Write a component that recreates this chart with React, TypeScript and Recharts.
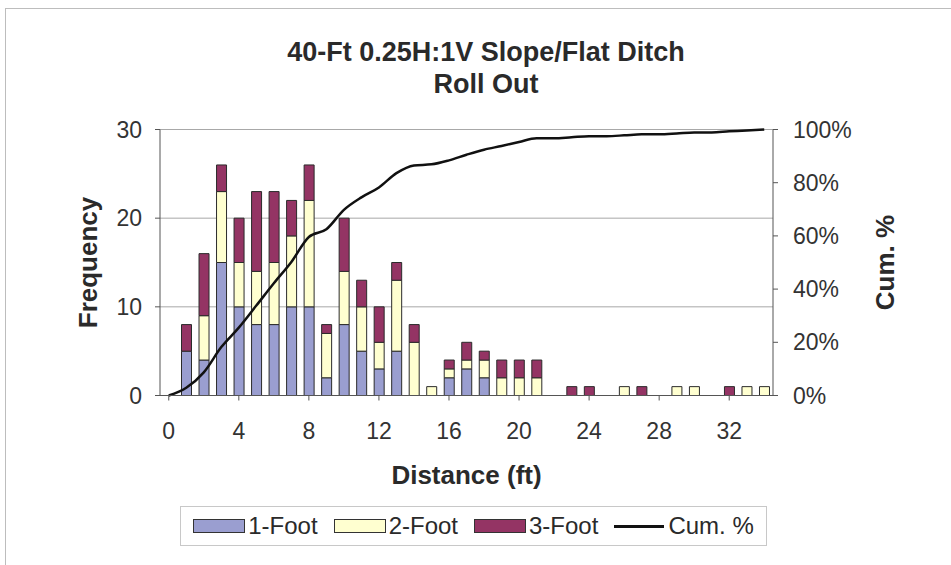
import React from 'react';
import {
  Bar,
  CartesianGrid,
  ComposedChart,
  Legend,
  Line,
  XAxis,
  YAxis,
} from 'recharts';

// distance bins (ft) and counts per boulder size
const distanceBins = [
  0, 1, 2, 3, 4, 5, 6, 7, 8, 9, 10, 11, 12, 13, 14, 15, 16, 17, 18, 19, 20, 21, 22, 23, 24, 25, 26,
  27, 28, 29, 30, 31, 32, 33, 34,
];
const oneFoot = [
  0, 5, 4, 15, 10, 8, 8, 10, 10, 2, 8, 5, 3, 5, 0, 0, 2, 3, 2, 0, 0, 0, 0, 0, 0, 0, 0, 0, 0, 0, 0,
  0, 0, 0, 0,
];
const twoFoot = [
  0, 0, 5, 8, 5, 6, 7, 8, 12, 5, 6, 5, 3, 8, 6, 1, 1, 1, 2, 2, 2, 2, 0, 0, 0, 0, 1, 0, 0, 1, 1, 0,
  0, 1, 1,
];
const threeFoot = [
  0, 3, 7, 3, 5, 9, 8, 4, 4, 1, 6, 3, 4, 2, 2, 0, 1, 2, 1, 2, 2, 2, 0, 1, 1, 0, 0, 1, 0, 0, 0, 0,
  1, 0, 0,
];
const cumPercent = [
  0, 2.9, 8.7, 18.2, 25.5, 33.8, 42.2, 50.2, 59.6, 62.5, 69.8, 74.5, 78.2, 83.6, 86.5, 86.9, 88.4,
  90.5, 92.4, 93.8, 95.3, 96.7, 96.7, 97.1, 97.5, 97.5, 97.8, 98.2, 98.2, 98.5, 98.9, 98.9, 99.3,
  99.6, 100,
];
const freqTicks = [0, 10, 20, 30];
const cumTicks = [0, 20, 40, 60, 80, 100];

const FONT = '"Liberation Sans", Arial, sans-serif';
const TEXT = '#2a2a2a';

const data = distanceBins.map((bin, i) => ({
  bin,
  oneFoot: oneFoot[i],
  twoFoot: twoFoot[i],
  threeFoot: threeFoot[i],
  cum: cumPercent[i],
}));

type LegendEntry = { value?: string; color?: string; type?: string };

function ChartLegend({ payload }: { payload?: LegendEntry[] }) {
  return (
    <div
      style={{
        boxSizing: 'border-box',
        width: '100%',
        height: '100%',
        border: '1px solid #c8c8c8',
        display: 'flex',
        alignItems: 'center',
        justifyContent: 'center',
        gap: 16,
        fontFamily: FONT,
        fontSize: 24,
        color: TEXT,
      }}
    >
      {(payload ?? []).map((item) => (
        <div key={item.value} style={{ display: 'flex', alignItems: 'center' }}>
          {item.type === 'line' ? (
            <span
              style={{
                display: 'inline-block',
                width: 50,
                height: 3,
                background: '#111',
                marginRight: 4,
              }}
            />
          ) : (
            <span
              style={{
                display: 'inline-block',
                boxSizing: 'border-box',
                width: 52,
                height: 14,
                background: item.color,
                border: '1px solid #333',
                marginRight: 3,
              }}
            />
          )}
          <span>{item.value}</span>
        </div>
      ))}
    </div>
  );
}

export default function App() {
  const tickStyle = { fill: '#333', fontSize: 23, fontFamily: FONT };
  const titleStyle = { fill: TEXT, fontSize: 26, fontWeight: 700, fontFamily: FONT };

  return (
    <div
      style={{
        position: 'absolute',
        left: 0,
        top: 0,
        width: 951,
        height: 565,
        background: '#fff',
        fontFamily: FONT,
      }}
    >
      <div
        style={{
          position: 'absolute',
          left: 5,
          top: 8,
          width: 946,
          height: 557,
          borderLeft: '1px solid #bdbdbd',
          borderTop: '1px solid #bdbdbd',
        }}
      />
      <div
        style={{
          position: 'absolute',
          left: 0,
          top: 36,
          width: 972,
          textAlign: 'center',
          fontSize: 27,
          lineHeight: '32px',
          fontWeight: 700,
          color: TEXT,
        }}
      >
        <div>40-Ft 0.25H:1V Slope/Flat Ditch</div>
        <div>Roll Out</div>
      </div>
      <div style={{ position: 'absolute', left: 0, top: 0 }}>
        <ComposedChart
          width={951}
          height={565}
          data={data}
          margin={{ top: 129.5, right: 78, bottom: 69.5, left: 100 }}
        >
          <CartesianGrid yAxisId="freq" vertical={false} stroke="#a8a8a8" />
          <XAxis
            dataKey="bin"
            interval={3}
            height={100}
            tick={tickStyle}
            tickSize={5}
            tickMargin={22}
            stroke="#555"
            label={{ value: 'Distance (ft)', position: 'center', dy: 29, style: titleStyle }}
          />
          <YAxis
            yAxisId="freq"
            width={60}
            domain={[0, 30]}
            ticks={freqTicks}
            tick={tickStyle}
            tickSize={5}
            tickMargin={13}
            stroke="#555"
            label={{
              value: 'Frequency',
              angle: -90,
              position: 'center',
              dx: -42,
              style: titleStyle,
            }}
          />
          <YAxis
            yAxisId="cum"
            orientation="right"
            width={100}
            domain={[0, 100]}
            ticks={cumTicks}
            tickFormatter={(v: number) => `${v}%`}
            tick={{ ...tickStyle, textAnchor: 'start' }}
            tickSize={5}
            tickMargin={15}
            stroke="#555"
            label={{
              value: 'Cum. %',
              angle: -90,
              position: 'center',
              dx: 62,
              style: titleStyle,
            }}
          />
          <Bar
            yAxisId="freq"
            dataKey="oneFoot"
            name="1-Foot"
            stackId="size"
            fill="#9a9ed0"
            stroke="#2b2b2b"
            strokeWidth={1}
            barSize={10}
            isAnimationActive={false}
          />
          <Bar
            yAxisId="freq"
            dataKey="twoFoot"
            name="2-Foot"
            stackId="size"
            fill="#ffffd0"
            stroke="#2b2b2b"
            strokeWidth={1}
            barSize={10}
            isAnimationActive={false}
          />
          <Bar
            yAxisId="freq"
            dataKey="threeFoot"
            name="3-Foot"
            stackId="size"
            fill="#943464"
            stroke="#2b2b2b"
            strokeWidth={1}
            barSize={10}
            isAnimationActive={false}
          />
          <Line
            yAxisId="cum"
            dataKey="cum"
            name="Cum. %"
            type="monotone"
            stroke="#111"
            strokeWidth={2.5}
            dot={false}
            isAnimationActive={false}
          />
          <Legend
            layout="horizontal"
            verticalAlign="middle"
            align="center"
            content={<ChartLegend />}
            wrapperStyle={{ left: 180, top: 506, width: 587, height: 40 }}
          />
        </ComposedChart>
      </div>
    </div>
  );
}
